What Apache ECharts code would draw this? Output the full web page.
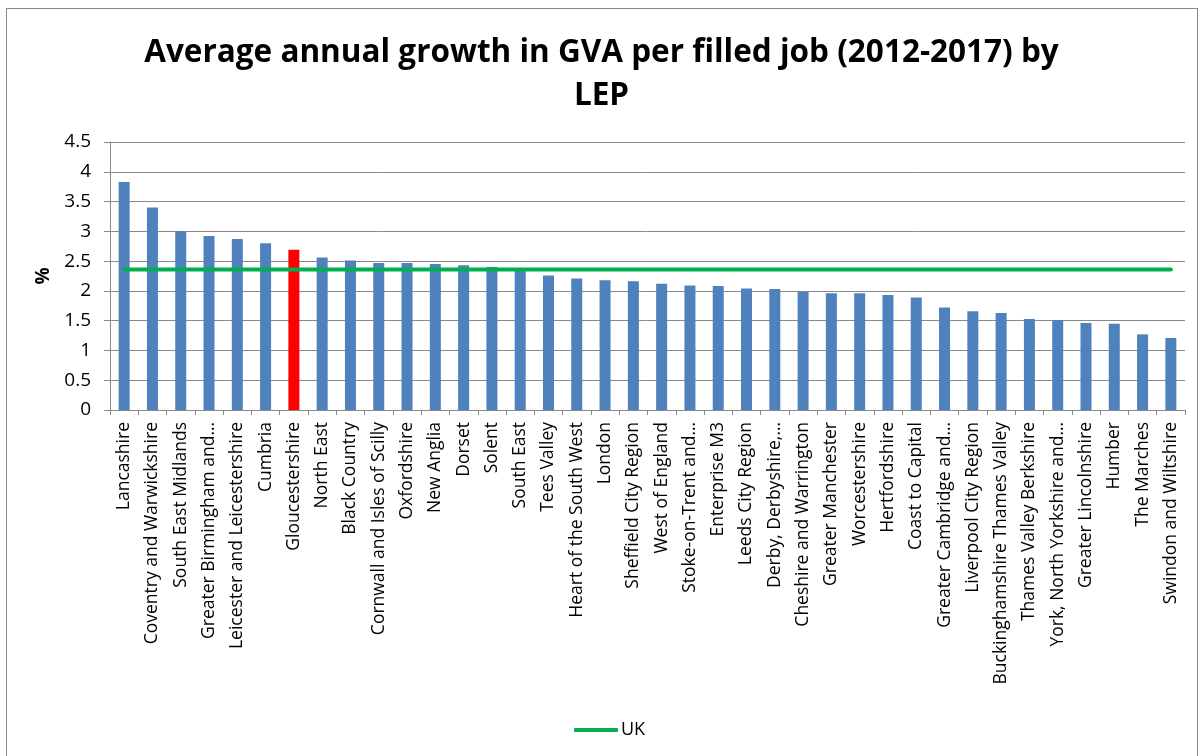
<!DOCTYPE html>
<html>
<head>
<meta charset="utf-8">
<script src="https://cdn.jsdelivr.net/npm/echarts@6/dist/echarts.min.js"></script>
<style>
  html, body { margin: 0; padding: 0; background: #fff; }
  #frame { position: absolute; left: 6px; top: 8px; width: 1192px; height: 760px; border: 1px solid #8a8a8a; box-sizing: border-box; }
  #chart { position: absolute; left: 0; top: 0; width: 1203px; height: 756px; }
</style>
</head>
<body>
<div id="frame"></div>
<div id="chart"></div>
<script>
// Local Enterprise Partnerships, ordered by growth
const categories = [
  'Lancashire', 'Coventry and Warwickshire', 'South East Midlands', 'Greater Birmingham and…',
  'Leicester and Leicestershire', 'Cumbria', 'Gloucestershire', 'North East', 'Black Country',
  'Cornwall and Isles of Scilly', 'Oxfordshire', 'New Anglia', 'Dorset', 'Solent', 'South East',
  'Tees Valley', 'Heart of the South West', 'London', 'Sheffield City Region', 'West of England',
  'Stoke-on-Trent and…', 'Enterprise M3', 'Leeds City Region', 'Derby, Derbyshire,…',
  'Cheshire and Warrington', 'Greater Manchester', 'Worcestershire', 'Hertfordshire',
  'Coast to Capital', 'Greater Cambridge and…', 'Liverpool City Region',
  'Buckinghamshire Thames Valley', 'Thames Valley Berkshire', 'York, North Yorkshire and…',
  'Greater Lincolnshire', 'Humber', 'The Marches', 'Swindon and Wiltshire'
];

// Average annual growth in GVA per filled job, 2012-2017 (%)
const growth = [
  3.83, 3.40, 3.00, 2.92, 2.87, 2.80, 2.69, 2.56, 2.51, 2.47, 2.47, 2.45, 2.43, 2.40, 2.36,
  2.26, 2.21, 2.18, 2.16, 2.12, 2.09, 2.08, 2.04, 2.03, 1.99, 1.96, 1.96, 1.93, 1.89, 1.72,
  1.66, 1.63, 1.53, 1.51, 1.46, 1.45, 1.27, 1.21
];

// UK average, drawn as a flat reference line
const ukValue = 2.36;
const ukLine = categories.map(() => ukValue);

const highlighted = 'Gloucestershire';
const yTicks = { min: 0, max: 4.5, interval: 0.5 };

const chart = echarts.init(document.getElementById('chart'), null, { renderer: 'canvas' });
const font = "'Open Sans', 'DejaVu Sans', sans-serif";

chart.setOption({
  backgroundColor: 'transparent',
  animation: false,
  title: {
    text: 'Average annual growth in GVA per filled job (2012-2017) by\nLEP',
    left: 'center',
    top: 27,
    textStyle: { fontFamily: font, fontWeight: 'bold', fontSize: 31.5, lineHeight: 43, color: '#000' }
  },
  legend: {
    bottom: 12,
    left: 569,
    itemWidth: 44,
    itemHeight: 4,
    itemGap: 4,
    data: [{ name: 'UK', icon: 'roundRect' }],
    textStyle: { fontFamily: font, fontSize: 18, color: '#000', padding: [0, 0, 0, -2] }
  },
  grid: { left: 110, right: 18, top: 142, bottom: 346, containLabel: false },
  xAxis: {
    type: 'category',
    data: categories,
    boundaryGap: true,
    axisLine: { lineStyle: { color: '#8a8a8a', width: 1 } },
    axisTick: { show: true, interval: 0, length: 5, lineStyle: { color: '#8a8a8a' } },
    axisLabel: { interval: 0, rotate: 90, margin: 12, fontFamily: font, fontSize: 17.5, color: '#000' }
  },
  yAxis: {
    type: 'value',
    min: yTicks.min,
    max: yTicks.max,
    interval: yTicks.interval,
    name: '%',
    nameLocation: 'middle',
    nameRotate: 90,
    nameGap: 56,
    nameTextStyle: { fontFamily: font, fontWeight: 'bold', fontSize: 19, color: '#000' },
    axisLine: { show: true, lineStyle: { color: '#8a8a8a', width: 1 } },
    axisTick: { show: true, length: 6, lineStyle: { color: '#8a8a8a' } },
    axisLabel: { margin: 19, fontFamily: font, fontSize: 19, color: '#000' },
    splitLine: { show: true, lineStyle: { color: '#8a8a8a', width: 1 } }
  },
  series: [
    {
      name: 'Growth',
      type: 'bar',
      data: growth,
      barWidth: 11,
      itemStyle: {
        color: (p) => (categories[p.dataIndex] === highlighted ? '#ff0000' : '#4f81bd')
      },
      z: 2
    },
    {
      name: 'UK',
      type: 'line',
      data: ukLine,
      symbol: 'none',
      lineStyle: { color: '#00b050', width: 4, cap: 'round' },
      itemStyle: { color: '#00b050' },
      z: 3
    }
  ]
});
</script>
</body>
</html>
